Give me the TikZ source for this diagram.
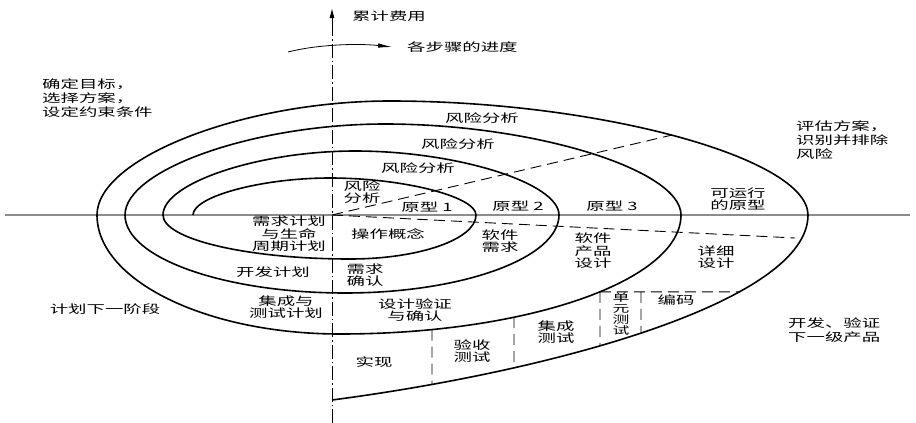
\documentclass[tikz,border=0pt]{standalone}
\usepackage{fontspec}
\newfontfamily\cjk[FakeStretch=1.6]{Noto Sans CJK SC}
\usetikzlibrary{arrows.meta,intersections}

\begin{document}
\begin{tikzpicture}[x=1pt,y=-1pt,
		lbl/.style={font={\cjk\fontsize{11.5}{12.5}\selectfont},align=center,inner sep=0pt},
		note/.style={lbl,align=left,anchor=west,font={\cjk\fontsize{11.5}{14}\selectfont}},
		spiral/.style={line width=1.6pt,line join=round},
		guide/.style={line width=0.9pt,dash pattern=on 11pt off 6pt},
		axis/.style={line width=1pt,dash pattern=on 14pt off 3pt on 1.5pt off 3pt}]
	\useasboundingbox (0,0) rectangle (916,423);
	\coordinate (O) at (332,215);
	\coordinate (top) at (332,8);
	\coordinate (bot) at (332,423);
	\coordinate (west) at (5,215);
	\coordinate (east) at (910,215);
	\draw[black!45,line width=1.4pt] (west) -- (east);
	\draw[axis] (bot) -- (332,22);
	\draw[-{Latex[length=10pt,width=5pt]},line width=1pt] (332,22) -- (top);
	\draw[spiral,name path=inner] (193,215)
		.. controls (193,196.5) and (261.5,178) .. (330,178)
		.. controls (403,178) and (476,196.5) .. (476,215)
		.. controls (476,239.2) and (419.3,259) .. (350,259)
		.. controls (247.2,259) and (163,239.2) .. (163,215)
		.. controls (163,183) and (259,151) .. (355,151)
		.. controls (457,151) and (559,183) .. (559,215)
		.. controls (559,257.9) and (462.7,293) .. (345,293)
		.. controls (224,293) and (125,257.9) .. (125,215)
		.. controls (125,169.5) and (255,124) .. (385,124)
		.. controls (533,124) and (681,169.5) .. (681,215);
	\draw[spiral,name path=mid] (681,215)
		.. controls (681,280.5) and (527.6,334) .. (340,334)
		.. controls (206.3,334) and (97,280.5) .. (97,215);
	\draw[spiral,name path=outer] (97,215)
		.. controls (97,158) and (243.5,101) .. (390,101)
		.. controls (599,101) and (808,158) .. (808,215)
		.. controls (808,300) and (560,370) .. (332,400);
	\path[name path=ray] (O) -- (900,81.4);
	\path[name path=p1] (600,230) -- (600,420);
	\path[name path=p2] (514,230) -- (514,420);
	\path[name path=p3] (432,230) -- (432,420);
	\path[name path=p4] (641,230) -- (641,420);
	\path[name intersections={of=outer and ray,by=r1}];
	\path[name intersections={of=mid and p1,by=m1}];
	\path[name intersections={of=mid and p2,by=m2}];
	\path[name intersections={of=mid and p3,by=m3}];
	\path[name intersections={of=outer and p1,by=n1}];
	\path[name intersections={of=outer and p2,by=n2}];
	\path[name intersections={of=outer and p3,by=n3}];
	\path[name intersections={of=outer and p4,by=n4}];
	\path[name path=hz] (m1) -- ++(300,0);
	\path[name intersections={of=outer and hz,by=h1}];
	\path[name intersections={of=p4 and hz,by=k1}];
	\coordinate (d2) at (795,238);
	\draw[guide] (O) -- (r1);
	\draw[guide] (O) -- (d2);
	\draw[guide] (m1) -- (h1);
	\draw[guide] (m1) -- (n1);
	\draw[guide] (k1) -- (n4);
	\draw[guide] (m2) -- (n2);
	\draw[guide] (m3) -- (n3);
	\coordinate (s0) at (288,52);
	\coordinate (s1) at (392,47);
	\draw[-{Latex[length=14pt,width=4.5pt]},line width=0.8pt] (s0) .. controls (315,45) and (355,43) .. (s1);
	\node[note] (cost) at (352,16) {累计费用};
	\node[note] (prog) at (407,47) {各步骤的进度};
	\node[note] (goal) at (42,98) {确定目标，\\选择方案，\\设定约束条件};
	\node[note] (eval) at (796,140) {评估方案，\\识别并排除\\风险};
	\node[lbl] (plan) at (105,309) {计划下一阶段};
	\node[note] (dev) at (788,330) {开发、验证\\下一级产品};
	\node[lbl] (ra4) at (482,118) {风险分析};
	\node[lbl] (ra3) at (458,144) {风险分析};
	\node[lbl] (ra2) at (418,168) {风险分析};
	\node[lbl,align=left] (ra1) at (362,192) {风险\\分析};
	\node[lbl] (pt1) at (427,207) {原型 1};
	\node[lbl] (pt2) at (518,206) {原型 2};
	\node[lbl] (pt3) at (612,206) {原型 3};
	\node[lbl] (pt4) at (738,199) {可运行\\的原型};
	\node[lbl] (rp) at (289,234) {需求计划\\与生命\\周期计划};
	\node[lbl] (op) at (388,234) {操作概念};
	\node[lbl] (sr) at (500,241) {软件\\需求};
	\node[lbl] (pd) at (593,251) {软件\\产品\\设计};
	\node[lbl] (dd) at (716,257) {详细\\设计};
	\node[lbl] (dp) at (273,272) {开发计划};
	\node[lbl] (rv) at (365,275) {需求\\确认};
	\node[lbl] (tp) at (286,307) {集成与\\测试计划};
	\node[lbl] (dv) at (415,310) {设计验证\\与确认};
	\node[lbl] (impl) at (374,362) {实现};
	\node[lbl] (acc) at (472,351) {验收\\测试};
	\node[lbl] (it) at (556,332) {集成\\测试};
	\node[lbl,font={\cjk\fontsize{10.5}{10.8}\selectfont}] (ut) at (621,314) {单\\元\\测\\试};
	\node[lbl] (code) at (676,300) {编码};
\end{tikzpicture}
\end{document}
